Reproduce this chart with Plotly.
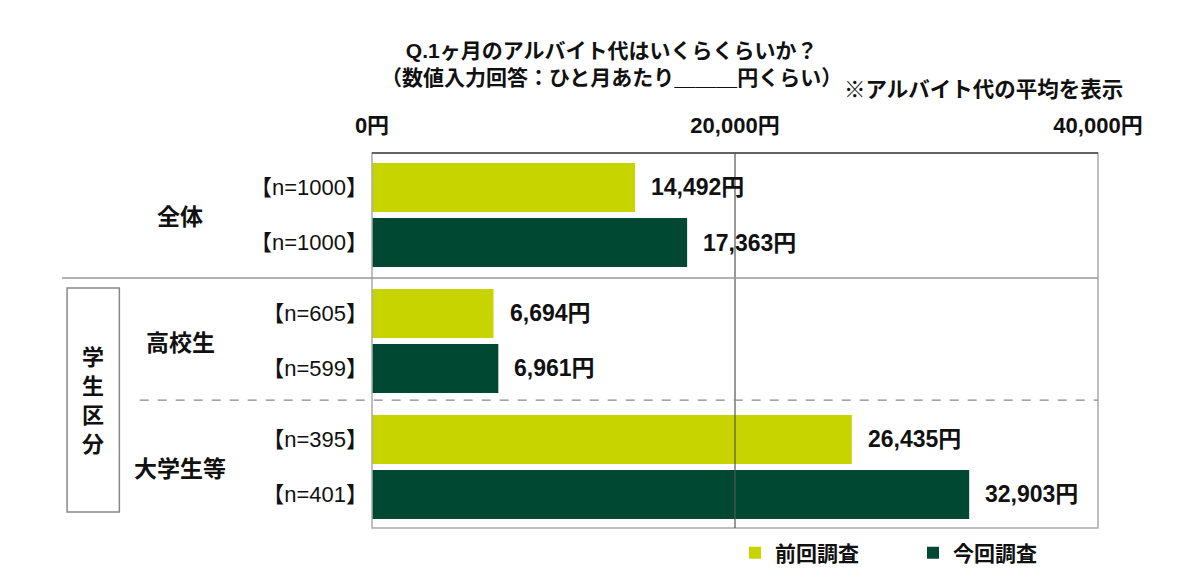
import plotly.graph_objects as go

# ---- data ----
groups = ["全体", "高校生", "大学生等"]
n_prev = ["【n=1000】", "【n=605】", "【n=395】"]
n_curr = ["【n=1000】", "【n=599】", "【n=401】"]
prev_vals = [14492, 6694, 26435]
curr_vals = [17363, 6961, 32903]
series_names = ["前回調査", "今回調査"]
x_ticks = [0, 20000, 40000]
x_tick_labels = ["0円", "20,000円", "40,000円"]
box_label = "学生区分"

C_PREV = "#C8D400"
C_CURR = "#004832"
FONT = "Liberation Sans, Noto Sans CJK JP"
CJK = "Noto Sans CJK JP"

GROUP_GAP = 2.29
prev_pos = [g * GROUP_GAP for g in range(len(groups))]
curr_pos = [g * GROUP_GAP + 1 for g in range(len(groups))]

fig = go.Figure()
fig.add_trace(go.Bar(y=prev_pos, x=prev_vals, orientation="h", name=series_names[0],
                     marker=dict(color=C_PREV, line=dict(width=0)), width=0.89))
fig.add_trace(go.Bar(y=curr_pos, x=curr_vals, orientation="h", name=series_names[1],
                     marker=dict(color=C_CURR, line=dict(width=0)), width=0.89))

ann = []
# value labels
for pos, v in list(zip(prev_pos, prev_vals)) + list(zip(curr_pos, curr_vals)):
    ann.append(dict(x=v, y=pos, xref="x", yref="y", text=f"{v:,}円", showarrow=False,
                    xanchor="left", xshift=14, font=dict(size=23, color="#111", family=FONT, weight="bold")))
# group labels
for g, name in enumerate(groups):
    ann.append(dict(x=-0.264, y=g * GROUP_GAP + 0.5, xref="paper", yref="y", text=name,
                    showarrow=False, xanchor="center",
                    font=dict(size=23, color="#111", family=CJK, weight="bold")))
# vertical box label (one character per line)
for i, ch in enumerate(box_label):
    ann.append(dict(x=-0.384, y=0.345, xref="paper", yref="paper", text=ch,
                    showarrow=False, xanchor="center", yanchor="middle",
                    yshift=(1.5 - i) * 29,
                    font=dict(size=22, color="#111", family=CJK, weight="bold")))
# title
ann.append(dict(x=0.33, y=1.0, xref="paper", yref="paper", yanchor="bottom", yshift=62,
                text="Q.1ヶ月のアルバイト代はいくらくらいか？<br>（数値入力回答：ひと月あたり＿＿＿円くらい）",
                showarrow=False, xanchor="center",
                font=dict(size=21, color="#111", family=FONT, weight="bold")))
ann.append(dict(x=1.037, y=1.0, xref="paper", yref="paper", yanchor="middle", yshift=63,
                text="※アルバイト代の平均を表示", showarrow=False, xanchor="right",
                font=dict(size=21.5, color="#111", family=FONT, weight="bold")))

shapes = [
    # frame
    dict(type="rect", xref="paper", yref="paper", x0=0, x1=1, y0=0, y1=1,
         line=dict(color="#AAAAAA", width=1.5), layer="above"),
    dict(type="line", xref="paper", yref="paper", x0=0, x1=1, y0=1, y1=1,
         line=dict(color="#444444", width=1.5), layer="above"),
    # 20,000 grid line
    dict(type="line", xref="x", yref="paper", x0=20000, x1=20000, y0=0, y1=1,
         line=dict(color="#555555", width=1.2), layer="above"),
    # separator between 全体 and 学生区分
    dict(type="line", xref="paper", yref="paper", x0=-0.427, x1=1, y0=0.667, y1=0.667,
         line=dict(color="#999999", width=1.5), layer="above"),
    # dashed separator
    dict(type="line", xref="paper", yref="paper", x0=-0.32, x1=1, y0=0.341, y1=0.341,
         line=dict(color="#888888", width=1.2, dash="dash"), layer="above"),
    # box for 学生区分
    dict(type="rect", xref="paper", yref="paper", x0=-0.42, x1=-0.348, y0=0.043, y1=0.64,
         line=dict(color="#888888", width=1.5)),
]

fig.update_layout(
    width=1200, height=580,
    margin=dict(l=372, r=102, t=153, b=52, autoexpand=False),
    paper_bgcolor="white", plot_bgcolor="white",
    barmode="overlay",
    showlegend=True,
    legend=dict(orientation="h", x=0.50, xanchor="left", xref="paper",
                y=(580 - 553) / 580, yref="container", yanchor="middle",
                font=dict(size=21, color="#111", family=CJK, weight="bold"),
                entrywidth=133, itemclick=False),
    xaxis=dict(side="top", range=[0, 40000], tickvals=x_ticks, ticktext=x_tick_labels,
               showgrid=False, zeroline=False, showline=False, ticks="", ticklabelstandoff=15,
               automargin=False,
               tickfont=dict(size=22, color="#111", family=FONT, weight="bold"), fixedrange=True),
    yaxis=dict(range=[6.19, -0.627], tickvals=prev_pos + curr_pos, ticktext=n_prev + n_curr,
               showgrid=False, zeroline=False, showline=False, ticks="", ticklabelstandoff=3,
               automargin=False,
               tickfont=dict(size=22, color="#111", family=FONT), fixedrange=True),
    annotations=ann, shapes=shapes,
    font=dict(family=FONT),
)

fig.write_html("out.html", config={"displayModeBar": False},
               post_script="document.body.style.margin='0';document.body.style.padding='0';")
